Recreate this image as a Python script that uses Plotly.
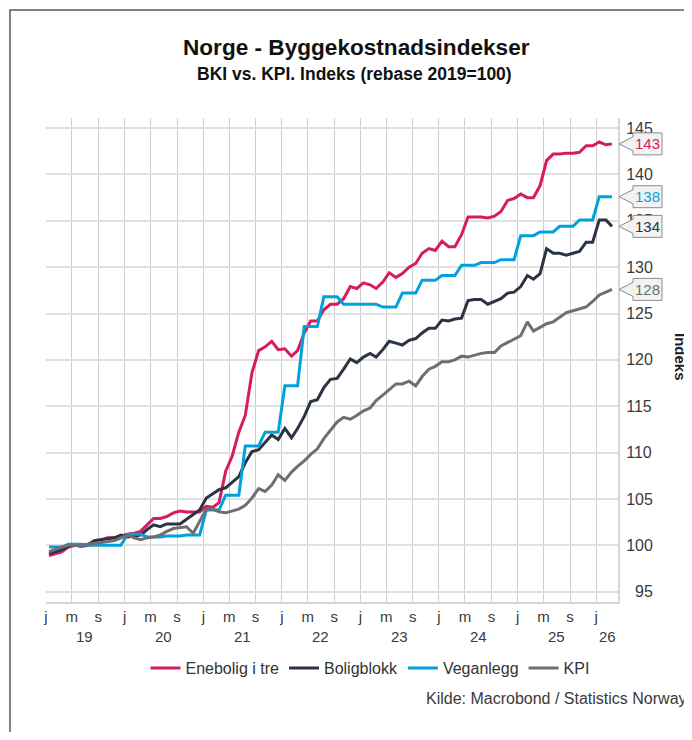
import pandas as pd
import plotly.graph_objects as go

# ---------------- data ----------------
start_month = "2019-01-01"
n_months = 87
dates = pd.date_range(start_month, periods=n_months, freq="MS") + pd.Timedelta(days=14)

enebolig = [
    98.9, 99.1, 99.3, 99.8, 100.0, 100.0, 100.1, 100.5, 100.6, 100.8,
    100.8, 101.0, 101.2, 101.3, 101.5, 102.2, 102.9, 102.9, 103.1, 103.5,
    103.7, 103.6, 103.6, 103.6, 104.2, 104.1, 104.6, 108.0, 109.6, 112.2,
    114.0, 118.6, 121.0, 121.4, 122.0, 121.1, 121.2, 120.4, 121.0, 122.9,
    124.2, 124.2, 125.4, 126.0, 126.0, 126.6, 127.9, 127.7, 128.3, 128.1,
    127.7, 128.4, 129.4, 128.9, 129.3, 130.0, 130.4, 131.5, 132.0, 131.8,
    132.8, 132.2, 132.2, 133.5, 135.4, 135.4, 135.4, 135.3, 135.5, 136.0,
    137.2, 137.4, 137.9, 137.5, 137.5, 138.8, 141.5, 142.2, 142.2, 142.3,
    142.3, 142.4, 143.1, 143.1, 143.5, 143.2, 143.3,
]
boligblokk = [
    99.1, 99.3, 99.5, 99.9, 100.0, 99.9, 100.0, 100.5, 100.6, 100.7,
    100.8, 101.1, 100.9, 101.0, 101.1, 101.7, 102.2, 102.0, 102.3, 102.3,
    102.3, 102.8, 103.3, 103.8, 105.1, 105.6, 106.0, 106.2, 106.8, 107.4,
    108.9, 110.1, 110.3, 111.1, 111.9, 111.4, 112.6, 111.6, 112.6, 113.9,
    115.5, 115.7, 117.0, 117.9, 118.0, 119.0, 120.1, 119.7, 120.3, 120.7,
    120.3, 121.1, 122.0, 121.8, 121.6, 122.1, 122.3, 122.9, 123.4, 123.4,
    124.3, 124.2, 124.4, 124.5, 126.4, 126.5, 126.5, 126.0, 126.3, 126.6,
    127.2, 127.3, 127.9, 129.1, 128.7, 129.3, 132.0, 131.5, 131.5, 131.3,
    131.5, 131.7, 132.7, 132.7, 135.1, 135.1, 134.4,
]
veganlegg = [
    99.8, 99.8, 99.8, 100.1, 100.1, 100.1, 100.0, 100.0, 100.0, 100.0,
    100.0, 100.0, 101.2, 101.2, 101.2, 100.9, 100.9, 100.9, 101.0, 101.0,
    101.0, 101.1, 101.1, 101.1, 103.8, 103.8, 103.8, 105.4, 105.4, 105.4,
    110.7, 110.7, 110.7, 112.2, 112.2, 112.2, 117.2, 117.2, 117.2, 123.6,
    123.6, 123.6, 126.8, 126.8, 126.8, 126.0, 126.0, 126.0, 126.0, 126.0,
    126.0, 125.7, 125.7, 125.7, 127.2, 127.2, 127.2, 128.6, 128.6, 128.6,
    129.1, 129.1, 129.1, 130.2, 130.2, 130.2, 130.5, 130.5, 130.5, 130.8,
    130.8, 130.8, 133.4, 133.4, 133.4, 133.8, 133.8, 133.8, 134.4, 134.4,
    134.4, 135.1, 135.1, 135.1, 137.6, 137.6, 137.6,
]
kpi = [
    99.3, 99.6, 99.8, 100.0, 100.0, 99.9, 100.1, 100.2, 100.3, 100.4,
    100.5, 100.8, 101.1, 100.8, 100.6, 100.8, 100.9, 101.1, 101.5, 101.8,
    101.9, 102.0, 101.3, 102.5, 103.9, 103.9, 103.6, 103.5, 103.7, 103.9,
    104.3, 105.1, 106.1, 105.8, 106.5, 107.6, 107.0, 107.9, 108.5, 109.1,
    109.8, 110.4, 111.5, 112.4, 113.3, 113.8, 113.6, 114.0, 114.5, 114.8,
    115.6, 116.2, 116.8, 117.4, 117.4, 117.7, 117.2, 118.2, 119.0, 119.3,
    119.8, 119.8, 120.0, 120.4, 120.3, 120.5, 120.7, 120.8, 120.8, 121.5,
    121.9, 122.2, 122.6, 124.1, 123.1, 123.5, 123.9, 124.1, 124.6, 125.1,
    125.3, 125.5, 125.7, 126.3, 127.0, 127.3, 127.6,
]

series_names = ["Enebolig i tre", "Boligblokk", "Veganlegg", "KPI"]
series_values = [enebolig, boligblokk, veganlegg, kpi]
series_colors = ["#d81b5c", "#2a3443", "#00a2de", "#6f6f6f"]

x_tick_dates = pd.date_range("2019-01-01", "2026-01-01", freq="4MS")
x_tick_letters = {1: "j", 5: "m", 9: "s"}
x_tick_text = [x_tick_letters[d.month] for d in x_tick_dates]

year_positions = ["2019-07-01", "2020-07-01", "2021-07-01", "2022-07-01",
                  "2023-07-01", "2024-07-01", "2025-07-01", "2026-02-21"]
year_labels = ["19", "20", "21", "22", "23", "24", "25", "26"]

y_ticks = [95, 100, 105, 110, 115, 120, 125, 130, 135, 140, 145]
y_tick_text = [("\u00a0\u00a0" + str(v)) if v < 100 else str(v) for v in y_ticks]

x_range = ["2019-01-01", "2026-04-12"]
y_range = [93.88, 146.09]

# ---------------- layout constants ----------------
# the page body has an 8px margin, so the figure starts at page pixel (8, 8)
OFF = 8
W, H = 684, 724
ML, MR, MT, MB = 38, 74, 110, 130
PW = W - ML - MR
PH = H - MT - MB
FONT = "Liberation Sans, Arial, Helvetica, sans-serif"


def px_x(px):
    """page pixel x -> paper coordinate"""
    return (px - OFF - ML) / PW


def px_y(py):
    """page pixel y -> paper coordinate"""
    return (H - MB - (py - OFF)) / PH


fig = go.Figure()
for name, vals, color in zip(series_names, series_values, series_colors):
    fig.add_trace(go.Scatter(
        x=dates, y=vals, name=name, mode="lines",
        line=dict(color=color, width=3),
    ))

# callouts with last values
for name, vals, color in zip(series_names, series_values, series_colors):
    last = vals[-1]
    fig.add_shape(
        type="path", xref="paper", yref="y",
        xsizemode="pixel", ysizemode="pixel",
        xanchor=1, yanchor=last,
        path="M 1 0 L 15 7 L 15 11 L 44 11 L 44 -11 L 15 -11 L 15 -7 Z",
        fillcolor="#f2f2f2", line=dict(color="#8c8c8c", width=1),
        layer="above",
    )
    fig.add_annotation(
        x=1 + 29.5 / PW, xref="paper", y=last, yref="y",
        text=f"{last:.0f}", showarrow=False,
        font=dict(family=FONT, size=15, color=color),
        xanchor="center", yanchor="middle",
    )

# year labels under the month letters
for pos, lab in zip(year_positions, year_labels):
    fig.add_annotation(
        x=pos, xref="x", y=px_y(636), yref="paper", text=lab,
        showarrow=False, font=dict(family=FONT, size=15, color="#3a3a3a"),
        xanchor="center", yanchor="middle",
    )

# titles
fig.add_annotation(
    x=px_x(356), y=px_y(47), xref="paper", yref="paper",
    text="<b>Norge - Byggekostnadsindekser</b>", showarrow=False,
    font=dict(family=FONT, size=22.6, color="#111111"),
    xanchor="center", yanchor="middle",
)
fig.add_annotation(
    x=px_x(354), y=px_y(74), xref="paper", yref="paper",
    text="<b>BKI vs. KPI. Indeks (rebase 2019=100)</b>", showarrow=False,
    font=dict(family=FONT, size=17.5, color="#111111"),
    xanchor="center", yanchor="middle",
)
# axis title
fig.add_annotation(
    x=px_x(681), y=px_y(357), xref="paper", yref="paper",
    text="<b>Indeks</b>", showarrow=False, textangle=90,
    font=dict(family=FONT, size=15, color="#222222"),
    xanchor="center", yanchor="middle",
)
# source
fig.add_annotation(
    x=px_x(689), y=px_y(698), xref="paper", yref="paper",
    text="Kilde: Macrobond / Statistics Norway", showarrow=False,
    font=dict(family=FONT, size=16, color="#3a3a3a"),
    xanchor="right", yanchor="middle",
)

# outer frame (top and left edges visible)
fig.add_shape(
    type="rect", xref="paper", yref="paper",
    x0=px_x(10), x1=px_x(760), y0=px_y(800), y1=px_y(10),
    line=dict(color="#5a5a5a", width=1.5), fillcolor="rgba(0,0,0,0)",
    layer="below",
)

fig.update_layout(
    width=W, height=H,
    margin=dict(l=ML, r=MR, t=MT, b=MB),
    paper_bgcolor="white", plot_bgcolor="white",
    font=dict(family=FONT, color="#3a3a3a"),
    showlegend=True,
    legend=dict(
        orientation="h", x=px_x(370), xanchor="center",
        y=px_y(668), yanchor="middle",
        font=dict(family=FONT, size=16, color="#333333"),
        bgcolor="rgba(0,0,0,0)", itemwidth=30, tracegroupgap=0,
    ),
    hovermode=False,
)

fig.update_xaxes(
    type="date", range=x_range,
    tickmode="array", tickvals=x_tick_dates, ticktext=x_tick_text,
    tickfont=dict(family=FONT, size=15, color="#3a3a3a"),
    showgrid=True, gridcolor="#cdcdcd", gridwidth=1.2,
    showline=True, linecolor="#d6d6d6", linewidth=2,
    ticks="", zeroline=False,
)
fig.update_yaxes(
    side="right", range=y_range,
    tickmode="array", tickvals=y_ticks, ticktext=y_tick_text,
    tickfont=dict(family=FONT, size=16, color="#3a3a3a"),
    showgrid=True, gridcolor="#e0e0e0", gridwidth=2,
    showline=True, linecolor="#d6d6d6", linewidth=2,
    ticks="", ticklabelstandoff=3, zeroline=False,
)

fig.write_html("out.html")
